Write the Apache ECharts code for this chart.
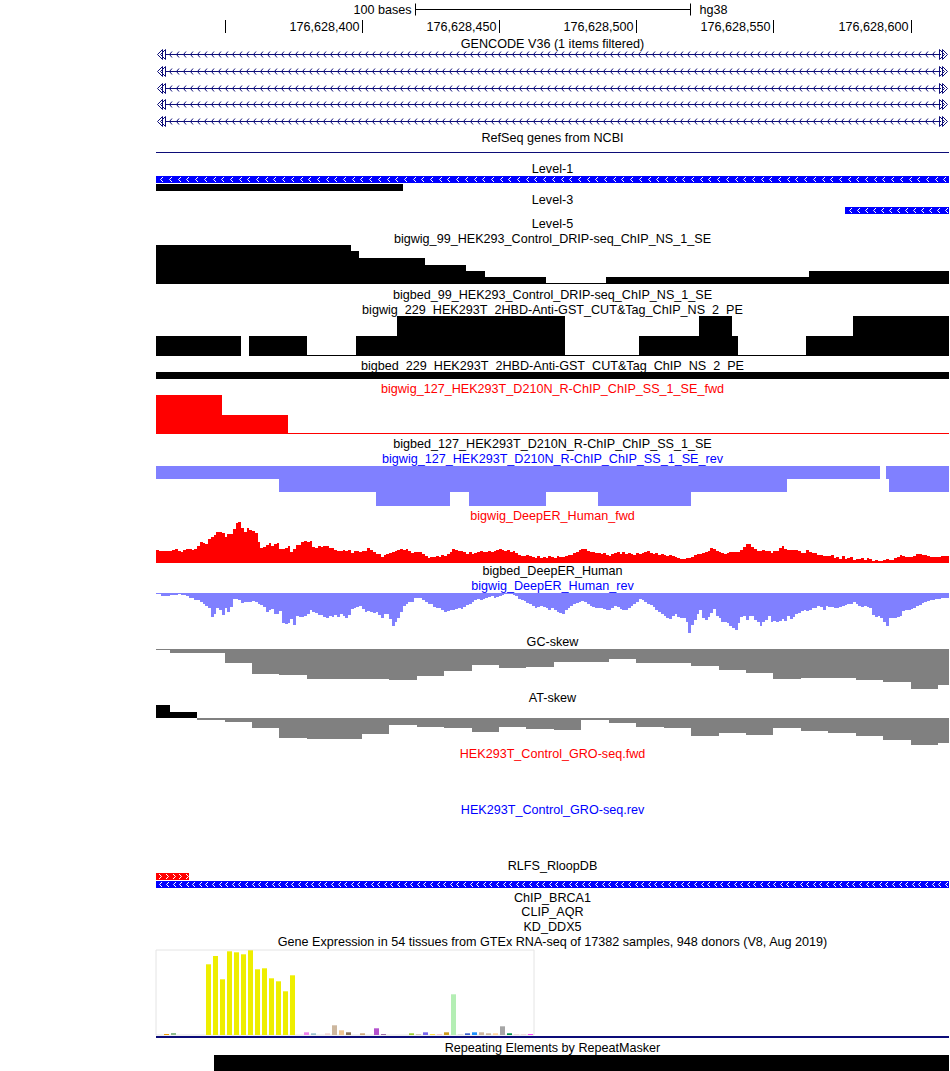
<!DOCTYPE html>
<html><head><meta charset="utf-8">
<script src="https://cdn.jsdelivr.net/npm/echarts@6/dist/echarts.min.js"></script>
<style>html,body{margin:0;padding:0;background:#fff}#c{width:950px;height:1071px}</style>
</head><body><div id="c"></div>
<script>
// ---------------- DATA ----------------
const CHROM_START = 176628325;      // left edge of window (0-based)
const WINDOW_BASES = 289;
const rulerTicks = [176628350, 176628400, 176628450, 176628500, 176628550, 176628600];
const rulerLabels = ['', '176,628,400', '176,628,450', '176,628,500', '176,628,550', '176,628,600'];
const scaleBar = [176628419.5, 176628519.5];
const scaleBarLabel = '100 bases';
const assemblyLabel = 'hg38';

const titles = [
 'GENCODE V36 (1 items filtered)', 'RefSeq genes from NCBI', 'Level-1', 'Level-3', 'Level-5',
 'bigwig_99_HEK293_Control_DRIP-seq_ChIP_NS_1_SE', 'bigbed_99_HEK293_Control_DRIP-seq_ChIP_NS_1_SE',
 'bigwig_229_HEK293T_2HBD-Anti-GST_CUT&Tag_ChIP_NS_2_PE', 'bigbed_229_HEK293T_2HBD-Anti-GST_CUT&Tag_ChIP_NS_2_PE',
 'bigwig_127_HEK293T_D210N_R-ChIP_ChIP_SS_1_SE_fwd', 'bigbed_127_HEK293T_D210N_R-ChIP_ChIP_SS_1_SE',
 'bigwig_127_HEK293T_D210N_R-ChIP_ChIP_SS_1_SE_rev',
 'bigwig_DeepER_Human_fwd', 'bigbed_DeepER_Human', 'bigwig_DeepER_Human_rev', 'GC-skew', 'AT-skew',
 'HEK293T_Control_GRO-seq.fwd', 'HEK293T_Control_GRO-seq.rev', 'RLFS_RloopDB', 'ChIP_BRCA1', 'CLIP_AQR', 'KD_DDX5',
 'Gene Expression in 54 tissues from GTEx RNA-seq of 17382 samples, 948 donors (V8, Aug 2019)',
 'Repeating Elements by RepeatMasker'];

// features: [start, end, row, strand(-1/1/0)]  (offsets in bases from window start)
const gencodeTranscripts = [[0,289,0,-1],[0,289,1,-1],[0,289,2,-1],[0,289,3,-1],[0,289,4,-1]];
const refseqGenes = [[0,289,0,-1]];
const level1Blue = [[0,289,0,-1]];
const level1Black = [[0,90,1,0]];
const level3Blue = [[251,289,0,-1]];
const bigbed229 = [[0,289,0,0]];
const rlfsPlus = [[0,12,0,1]];
const rlfsMinus = [[0,289,1,-1]];
const gtexGeneExtent = [[0,289,0,0]];
const repeatMasker = [[21,289,0,0]];

// step signals: [start, end, value]
const drip99 = [[0,71,39],[71,74,33],[74,98,26],[98,113,19],[113,120,13],[120,142,7],[142,164,1],[164,238,7],[238,289,13]];
const cut229 = [[0,31,20],[34,55,20],[55,73,1],[73,88,20],[88,149,40],[149,176,1],[176,198,20],[198,210,40],[210,212,20],[212,237,1],[237,254,20],[254,289,40]];
const rchipFwd = [[0,24,39],[24,48,19],[48,289,1]];
const rchipRev = [[0,45,13],[45,80,26],[80,107,40],[107,114,26],[114,142,40],[142,161,26],[161,195,40],[195,230,26],[230,264,13],[266,267,13],[267,289,26]];
const gcSkew = [[0,5,-1],[5,15,-4.3],[15,25,-3.7],[25,35,-13.7],[35,45,-25],[45,55,-26],[55,65,-30],[65,75,-30],[75,85,-29.7],[85,95,-31],[95,105,-27],[105,115,-21.7],[115,125,-16.3],[125,135,-19],[135,145,-17.7],[145,155,-13],[155,165,-13],[165,175,-10.3],[175,185,-14],[185,195,-14],[195,205,-17],[205,215,-21],[215,225,-24.3],[225,235,-30],[235,245,-29.3],[245,255,-29.3],[255,265,-31],[265,275,-33],[275,285,-39.7],[285,289,-36.3]];
const atSkew = [[0,5,12.7],[5,15,5.7],[15,25,-2.3],[25,35,-4.3],[35,45,-10],[45,55,-20],[55,65,-21],[65,75,-21],[75,85,-16],[85,95,-7],[95,105,-8.6],[105,115,-10],[115,125,-14.3],[125,135,-9],[135,145,-11],[145,155,-12.3],[155,165,-2.3],[165,175,-5],[175,185,-9],[185,195,-10.3],[195,205,-18],[205,215,-15.3],[215,225,-17],[225,235,-10.3],[235,245,-13],[245,255,-15],[255,265,-17.6],[265,275,-22],[275,285,-27],[285,289,-25]];

// per-base DeepER signals (one value per base, 289 bases)
const deeperFwd = [
 38,35,35,35,35,35,38,41,35,33, 38,41,41,38,41,50,62,59,56,71, 77,83,92,92,89,77,86,86,101,119, 122,104,92,104,98,95,89,62,44,47,
 53,59,50,56,59,41,41,44,50,32, 41,53,53,62,65,62,65,47,44,50, 47,50,50,44,44,38,35,35,38,35, 38,29,35,35,32,35,35,44,38,32,
 26,26,17,23,26,29,32,35,38,41, 38,41,35,29,32,32,
 32,26,20,14,17,17,20,17,23,20, 26,32,41,38,35,35,32,26,32,26, 29,32,35,32,32,35,32,35,38,41, 38,35,38,32,35,29,23,20,20,23,
 20,17,14,20,14,17,14,20,17,14, 20,17,17,20,23,23,29,32,38,41, 41,35,32,32,29,29,26,29,23,20, 26,29,32,26,32,26,29,26,23,29,
 26,29,32,35,29,26,29,23,26,23, 20,23,20,17,14,11,
 12,15,15,18,23,26,26,30,32,36, 44,41,36,33,30,27,30,33,33,33, 33,40,49,56,56,49,42,36,36,38, 36,35,30,35,36,44,50,42,40,38,
 38,38,35,30,30,38,33,30,30,25, 25,22,22,20,24,15,18,13,20,12, 15,18,9,11,12,16,10,15,12,7, 10,5,5,8,11,8,10,15,17,23,
 21,19,17,17,22,26,26,24,24,22, 19,17,17,17,20,20,22];
const deeperRev = [
 4,4,9,9,9,6,6,6,4,6, 6,9,15,15,20,20,28,34,40,45, 72,63,46,51,66,45,57,43,19,17, 20,30,28,27,26,24,28,33,37,43,
 57,51,49,63,63,55,90,92,90,79, 96,69,73,72,68,63,51,57,61,65, 66,72,75,69,72,66,72,63,69,75, 66,48,45,42,39,48,57,54,57,60,
 57,65,75,63,63,78,99,87,75,57, 39,33,27,27,15,15,
 15,21,27,33,33,41,45,45,51,58, 55,51,51,47,45,48,41,37,33,27, 21,18,21,18,15,11,9,15,12,9, 6,4,3,3,5,9,18,21,25,30,
 33,39,45,42,39,42,45,51,45,51, 57,60,63,51,45,39,33,30,27,24, 27,33,39,42,45,45,45,48,51,51, 45,39,42,48,51,51,45,39,33,27,
 18,21,27,33,37,41,51,57,63,69, 75,78,69,63,72,75,
 76,88,120,95,81,63,51,75,81,72, 60,48,69,75,87,87,90,99,105,111, 90,72,69,81,69,69,81,87,99,87, 81,69,87,84,87,84,78,84,69,78,
 72,63,60,54,51,54,51,45,45,39, 42,51,39,42,42,45,45,42,39,36, 33,33,27,33,39,42,39,42,45,66, 72,69,75,87,99,75,75,75,72,69,
 54,51,51,48,45,39,36,30,27,24, 21,21,18,18,15,15,15];

// GTEx tissues
const gtexTissues = ['Adipose - Subcutaneous','Adipose - Visceral (Omentum)','Adrenal Gland','Artery - Aorta','Artery - Coronary','Artery - Tibial','Bladder',
 'Brain - Amygdala','Brain - Anterior cingulate cortex (BA24)','Brain - Caudate (basal ganglia)','Brain - Cerebellar Hemisphere','Brain - Cerebellum','Brain - Cortex','Brain - Frontal Cortex (BA9)','Brain - Hippocampus','Brain - Hypothalamus','Brain - Nucleus accumbens (basal ganglia)','Brain - Putamen (basal ganglia)','Brain - Spinal cord (cervical c-1)','Brain - Substantia nigra',
 'Breast - Mammary Tissue','Cells - EBV-transformed lymphocytes','Cells - Cultured fibroblasts','Cervix - Ectocervix','Cervix - Endocervix','Colon - Sigmoid','Colon - Transverse','Esophagus - Gastroesophageal Junction','Esophagus - Mucosa','Esophagus - Muscularis','Fallopian Tube','Heart - Atrial Appendage','Heart - Left Ventricle','Kidney - Cortex','Kidney - Medulla','Liver','Lung','Minor Salivary Gland','Muscle - Skeletal','Nerve - Tibial','Ovary','Pancreas','Pituitary','Prostate','Skin - Not Sun Exposed (Suprapubic)','Skin - Sun Exposed (Lower leg)','Small Intestine - Terminal Ileum','Spleen','Stomach','Testis','Thyroid','Uterus','Vagina','Whole Blood'];
const gtexValues = [0,1,2,0,0,0,0, 70.7,79,55.7,83.7,82.7,80.7,84.7,65.7,66.7,56.7,53.7,43.7,59.7,
 0,2.7,1.7,0,1.7,9.7,4.7,2.7,0,1.7,0,6.7,0.7,0,0,0,1.7,0.7,2.7,0.7,0.7,2.7,40.7,0.7,1.7,2.7,2.7,1.7,1.7,8.7,1.7,0.7,0.7,0.7];
const gtexColors = ['#FFA54F','#EE9A00','#8FBC8F','#8B1C62','#EE6A50','#FF0000','#CDB79E',
 '#EEEE00','#EEEE00','#EEEE00','#EEEE00','#EEEE00','#EEEE00','#EEEE00','#EEEE00','#EEEE00','#EEEE00','#EEEE00','#EEEE00','#EEEE00',
 '#00CDCD','#EE82EE','#9AC0CD','#EED5D2','#EED5D2','#CDB79E','#EEC591','#8B7355','#8B7355','#CDAA7D','#EED5D2','#B452CD','#7A378B',
 '#CDB79E','#CDB79E','#CDB79E','#9ACD32','#CDB79E','#7A67EE','#FFD700','#FFB6C1','#CD9B1D','#B4EEB4','#D9D9D9','#3A5FCD','#1E90FF',
 '#CDB79E','#CDB79E','#FFD39B','#A6A6A6','#008B45','#EED5D2','#EED5D2','#FF00FF'];

// ---------------- LAYOUT / STYLE ----------------
const FONT = '"Liberation Sans", Arial, Helvetica, sans-serif';
const FS = 12.6;
const NAVY = '#0c0c78';
const titleY = [44,138,169,200,224,239,295,310,366,389,444,459,516,571,586,642,698,754,810,866,898,912,927,942,1048];
const titleColor = titles.map((t,i)=> [9,12,17].includes(i) ? '#ff0000' : ([11,14,18].includes(i) ? '#0000ff' : '#000000'));
const TRACK_LEFT = 156, TRACK_W = 793;

const grids=[], xAxes=[], yAxes=[], series=[];
function addGrid(top, height, yMin, yMax, inverse, xMin, xMax, extra){
  const i = grids.length;
  grids.push(Object.assign({left:TRACK_LEFT, top:top, width:TRACK_W, height:height, show:false}, extra||{}));
  xAxes.push({type:'value', gridIndex:i, min:xMin===undefined?0:xMin, max:xMax===undefined?WINDOW_BASES:xMax, show:false});
  yAxes.push({type:'value', gridIndex:i, min:yMin, max:yMax, inverse:!!inverse, show:false});
  return i;
}
function rectOf(api, x0, v0, x1, v1){
  const a = api.coord([x0, v0]), b = api.coord([x1, v1]);
  const x = Math.round(Math.min(a[0], b[0])), xr = Math.round(Math.max(a[0], b[0]));
  const y = Math.round(Math.min(a[1], b[1])), yb = Math.round(Math.max(a[1], b[1]));
  return {x:x, y:y, width:xr-x, height:yb-y};
}
function stepSeries(gi, data, colorFn){
  series.push({type:'custom', xAxisIndex:gi, yAxisIndex:gi, data:data, silent:true, clip:true,
    renderItem:function(params, api){
      const v = api.value(2);
      return {type:'rect', shape:rectOf(api, api.value(0), 0, api.value(1), v), style:{fill:colorFn(v)}};
    }});
}
function featureSeries(gi, data, color, barH, spacing){
  series.push({type:'custom', xAxisIndex:gi, yAxisIndex:gi, data:data, silent:true,
    renderItem:function(params, api){
      const row = api.value(2), strand = api.value(3);
      const a = api.coord([api.value(0), row]), b = api.coord([api.value(1), row]);
      const xL = Math.round(a[0]), xR = Math.round(b[0]), yT = Math.round(a[1]);
      const ch = [{type:'rect', shape:{x:xL, y:yT, width:xR-xL, height:barH}, style:{fill:color}}];
      if (strand !== 0 && spacing){
        const cy = yT + barH/2;
        for (let x = xL + spacing/2 + 1; x < xR - 2; x += spacing){
          const xx = Math.round(x) + 0.5;
          const pts = strand < 0 ? [[xx+1.5,cy-2.5],[xx-1,cy],[xx+1.5,cy+2.5]] : [[xx-1.5,cy-2.5],[xx+1,cy],[xx-1.5,cy+2.5]];
          ch.push({type:'polyline', shape:{points:pts}, style:{stroke:'#ffffff', lineWidth:1, fill:'none'}});
        }
      }
      return {type:'group', children:ch};
    }});
}

// Ruler (genomic coordinates)
const gRuler = addGrid(0, 40, 0, 40, true, CHROM_START, CHROM_START + WINDOW_BASES);
series.push({type:'custom', xAxisIndex:gRuler, yAxisIndex:gRuler, silent:true,
  data: rulerTicks.map((t,i)=>[t, i]),
  renderItem:function(params, api){
    const p = api.coord([api.value(0), 20]), q = api.coord([api.value(0), 33]);
    const x = Math.round(p[0]) + 0.5;
    const lab = rulerLabels[api.value(1)];
    return {type:'group', children:[
      {type:'line', shape:{x1:x, y1:p[1], x2:x, y2:q[1]}, style:{stroke:'#000', lineWidth:1}},
      {type:'text', style:{text:lab, x:x-3, y:api.coord([0,26.5])[1], textAlign:'right', align:'right', textVerticalAlign:'middle', verticalAlign:'middle', fontSize:FS, fontFamily:FONT, fill:'#000'}}
    ]};
  }});
series.push({type:'custom', xAxisIndex:gRuler, yAxisIndex:gRuler, silent:true,
  data: [scaleBar],
  renderItem:function(params, api){
    const a = api.coord([api.value(0), 9]), b = api.coord([api.value(1), 9]);
    const xa = Math.round(a[0]) + 0.5, xb = Math.round(b[0]) + 0.5, y = Math.round(a[1]) + 0.5;
    const st = {stroke:'#000', lineWidth:1};
    return {type:'group', children:[
      {type:'line', shape:{x1:xa, y1:y, x2:xb, y2:y}, style:st},
      {type:'line', shape:{x1:xa, y1:y-6, x2:xa, y2:y+6}, style:st},
      {type:'line', shape:{x1:xb, y1:y-6, x2:xb, y2:y+6}, style:st},
      {type:'text', style:{text:scaleBarLabel, x:xa-4, y:y, textAlign:'right', align:'right', textVerticalAlign:'middle', verticalAlign:'middle', fontSize:FS, fontFamily:FONT, fill:'#000'}},
      {type:'text', style:{text:assemblyLabel, x:xb+9, y:y, textAlign:'left', align:'left', textVerticalAlign:'middle', verticalAlign:'middle', fontSize:FS, fontFamily:FONT, fill:'#000'}}
    ]};
  }});

// GENCODE rows
const gGenc = addGrid(46, 83, 0, 5, true);
series.push({type:'custom', xAxisIndex:gGenc, yAxisIndex:gGenc, data:gencodeTranscripts, silent:true,
  renderItem:function(params, api){
    const r = api.value(2);
    const a = api.coord([api.value(0), r+0.5]), b = api.coord([api.value(1), r+0.5]);
    const xs = Math.round(a[0]), xe = Math.round(b[0]), cy = Math.round(a[1]) + 0.5;
    const st = {stroke:NAVY, lineWidth:1, fill:'none'};
    const ch = [{type:'line', shape:{x1:xs+9, y1:cy, x2:xe-8, y2:cy}, style:st}];
    for (let x = xs + 13; x < xe - 10; x += 7){
      const xx = x + 0.5;
      ch.push({type:'polyline', shape:{points:[[xx+2.5,cy-3],[xx,cy],[xx+2.5,cy+3]]}, style:st});
    }
    ch.push({type:'polygon', shape:{points:[[xs+1.5,cy],[xs+6.5,cy-5],[xs+6.5,cy+5]]}, style:st});
    ch.push({type:'polygon', shape:{points:[[xs+4.5,cy],[xs+9.5,cy-5],[xs+9.5,cy+5]]}, style:st});
    ch.push({type:'polygon', shape:{points:[[xe-1.5,cy],[xe-6.5,cy-5],[xe-6.5,cy+5]]}, style:st});
    ch.push({type:'polygon', shape:{points:[[xe-4.5,cy],[xe-9.5,cy-5],[xe-9.5,cy+5]]}, style:st});
    return {type:'group', children:ch};
  }});

// RefSeq dense line
const gRef = addGrid(152, 1, 0, 1, true);
series.push({type:'custom', xAxisIndex:gRef, yAxisIndex:gRef, data:refseqGenes, silent:true,
  renderItem:function(params, api){
    const a = api.coord([api.value(0), 0]), b = api.coord([api.value(1), 0]);
    return {type:'rect', shape:{x:Math.round(a[0]), y:Math.round(a[1]), width:Math.round(b[0])-Math.round(a[0]), height:1}, style:{fill:NAVY}};
  }});

// Level-1
const gL1 = addGrid(176, 16, 0, 2, true);
featureSeries(gL1, level1Blue, '#0000ff', 7, 8.7);
featureSeries(gL1, level1Black, '#000000', 7, 0);
// Level-3
const gL3 = addGrid(207, 7, 0, 1, true);
featureSeries(gL3, level3Blue, '#0000ff', 7, 8);

// bigwig 99
const gB99 = addGrid(245, 39, 0, 39, false);
stepSeries(gB99, drip99, ()=>'#000000');
// bigwig 229
const gB229 = addGrid(316, 40, 0, 40, false);
stepSeries(gB229, cut229, ()=>'#000000');
// bigbed 229
const gBB229 = addGrid(372, 7, 0, 1, true);
featureSeries(gBB229, bigbed229, '#000000', 7, 0);
// R-ChIP fwd
const gRF = addGrid(395, 39, 0, 39, false);
stepSeries(gRF, rchipFwd, ()=>'#ff0000');
// R-ChIP rev
const gRR = addGrid(466, 40, 0, 40, true);
stepSeries(gRR, rchipRev, ()=>'#8080ff');
// DeepER fwd
const gDF = addGrid(522, 41, 0, 123, false);
stepSeries(gDF, deeperFwd.map((v,i)=>[i, i+1, v]), ()=>'#ff0000');
// DeepER rev
const gDR = addGrid(593, 41, 0, 123, true);
stepSeries(gDR, deeperRev.map((v,i)=>[i, i+1, v]), ()=>'#8080ff');
// GC skew
const gGC = addGrid(649, 40, -40, 0, false);
stepSeries(gGC, gcSkew, v=> v >= 0 ? '#000000' : '#808080');
// AT skew
const gAT = addGrid(705, 40, -27, 13, false);
stepSeries(gAT, atSkew, v=> v >= 0 ? '#000000' : '#808080');
// RLFS
const gRL = addGrid(873, 16, 0, 2, true);
featureSeries(gRL, rlfsPlus, '#ff0000', 7, 6.6);
featureSeries(gRL, rlfsMinus, '#0000ff', 7, 6.6);
// GTEx gene extent line
const gGx = addGrid(1036, 2, 0, 1, true);
featureSeries(gGx, gtexGeneExtent, NAVY, 2, 0);
// RepeatMasker
const gRM = addGrid(1055, 16, 0, 1, true);
featureSeries(gRM, repeatMasker, '#000000', 16, 0);

// GTEx bar chart
const gi = grids.length;
grids.push({left:156, top:950, width:378, height:85, show:true, borderColor:'#e4e4e4', borderWidth:1, backgroundColor:'transparent'});
xAxes.push({type:'category', gridIndex:gi, data:gtexTissues, show:false, boundaryGap:true});
yAxes.push({type:'value', gridIndex:gi, min:0, max:85, show:false});
series.push({type:'bar', xAxisIndex:gi, yAxisIndex:gi, barWidth:5, silent:true,
  data: gtexValues.map((v,i)=>({value:v, itemStyle:{color:gtexColors[i]}}))});

// titles
const graphics = titles.map((t,i)=>({type:'text', silent:true,
  style:{text:t, x:552.5, y:titleY[i], textAlign:'center', align:'center', textVerticalAlign:'middle', verticalAlign:'middle',
         fontSize:FS, fontFamily:FONT, fill:titleColor[i]}}));

const chart = echarts.init(document.getElementById('c'), null, {renderer:'svg', width:950, height:1071});
chart.setOption({animation:false, backgroundColor:'#ffffff', grid:grids, xAxis:xAxes, yAxis:yAxes, series:series, graphic:graphics});
</script>
</body></html>
